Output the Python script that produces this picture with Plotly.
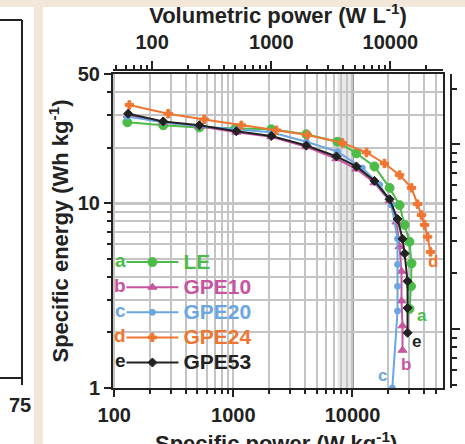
import math
import plotly.graph_objects as go

# ---------------- data ----------------
series_names = ["LE", "GPE10", "GPE20", "GPE24", "GPE53"]
series_letters = ["a", "b", "c", "d", "e"]
series_colors = ["#4cbb47", "#c8559f", "#6aa6e2", "#ef7530", "#222222"]
series_symbols = ["circle", "triangle-up", "circle", "cross", "diamond"]
series_sizes = [9, 8, 6, 7, 7]

le_power = [129, 258, 518, 1040, 2084, 4100, 7480, 10800, 15300, 20500, 24850, 27400, 30100, 31300, 31000, 30100]
le_energy = [27.4, 26.4, 25.7, 25.4, 25.1, 23.6, 21.5, 18.6, 15.8, 12.1, 9.76, 7.63, 6.18, 4.72, 3.55, 2.68]

gpe10_power = [130, 258, 518, 1060, 2084, 4100, 7340, 10800, 15300, 20500, 23400, 24850, 25800, 25800, 26300, 26300]
gpe10_energy = [29.9, 27.4, 26.1, 24.2, 22.9, 20.2, 17.4, 15.3, 12.9, 10.3, 7.91, 5.82, 4.28, 2.96, 2.17, 1.60]

gpe20_power = [129, 258, 518, 1060, 2084, 4100, 7480, 12100, 16900, 21300, 23900, 23900, 23900, 23900, 21600]
gpe20_energy = [29.4, 27.4, 26.1, 25.1, 24.2, 21.5, 19.0, 15.5, 12.6, 9.76, 6.42, 4.66, 3.55, 2.61, 1.0]

gpe24_power = [134, 284, 570, 1167, 2298, 4188, 8240, 13120, 18570, 24850, 31320, 35200, 38000, 40300, 42700, 45200]
gpe24_energy = [34.0, 30.5, 28.4, 26.4, 24.8, 23.4, 21.2, 18.8, 16.4, 14.2, 12.1, 9.88, 8.63, 7.63, 6.58, 5.45]

gpe53_power = [131, 258, 518, 1060, 2084, 4100, 7340, 10800, 15300, 20500, 23900, 26300, 27400, 29000, 29000, 29000]
gpe53_energy = [30.5, 27.7, 26.4, 24.5, 23.1, 20.5, 17.9, 15.8, 13.2, 10.5, 8.21, 6.42, 5.34, 3.78, 2.71, 1.99]

powers = [le_power, gpe10_power, gpe20_power, gpe24_power, gpe53_power]
energies = [le_energy, gpe10_energy, gpe20_energy, gpe24_energy, gpe53_energy]

# end-label offsets (px) for the curve letters
end_label_dx = [13, 4, -10, 2, 9]
end_label_dy = [-7, -14, 13, -10, -9]

density = 0.48  # kg L-1, links the specific and volumetric axes

x_tickvals = [100, 1000, 10000]
x_ticktext = ["100", "1000", "10000"]
y_tickvals = [1, 10, 50]
y_ticktext = ["1", "10", "50"]
x2_tickvals = [100, 1000, 10000]
x2_ticktext = ["100", "1000", "10000"]
y2_tickvals = [1, 10]

x_minor = [m * d for d in (100, 1000, 10000) for m in range(2, 10) if m * d <= 50000]
y_minor = [2, 3, 4, 5, 6, 7, 8, 9, 20, 30, 40]
x2_minor = [m * d for d in (10, 100, 1000, 10000) for m in range(2, 10) if 45 <= m * d <= 27000]
y2_minor = [0.5, 0.6, 0.7, 0.8, 0.9, 2, 3, 4, 5, 6, 7, 8, 9, 20]

shaded_band = [7500, 10000]
ref_power = 10000
ref_energy = 10

x_range = [1.99, 4.76]
y_range = [0.0, 1.699]

# ---------------- figure ----------------
W, H = 465, 444
L, R, T, B = 113, 15, 71, 56
pw = W - L - R
ph = H - T - B
ld = math.log10(density)

fig = go.Figure()

for name, col, sym, sz, px_, en in zip(series_names, series_colors, series_symbols, series_sizes, powers, energies):
    fig.add_trace(go.Scatter(
        x=px_, y=en, mode="lines+markers",
        name=f"<span style='color:{col};font-size:21px'>{name}</span>",
        line=dict(color=col, width=2),
        marker=dict(symbol=sym, size=sz, color=col, line=dict(color=col, width=1)),
        xaxis="x", yaxis="y",
    ))

# the same curve in volumetric units, carried (invisibly) by the secondary axes
fig.add_trace(go.Scatter(x=[p * density for p in gpe24_power], y=gpe24_energy, xaxis="x2", yaxis="y3",
                         mode="lines", line=dict(color="rgba(0,0,0,0)"), showlegend=False, hoverinfo="skip"))
fig.add_trace(go.Scatter(x=gpe24_power, y=[e * density for e in gpe24_energy], xaxis="x3", yaxis="y2",
                         mode="lines", line=dict(color="rgba(0,0,0,0)"), showlegend=False, hoverinfo="skip"))

# curve-end letters
for letter, col, px_, en, dx, dy in zip(series_letters, series_colors, powers, energies, end_label_dx, end_label_dy):
    fig.add_annotation(x=math.log10(px_[-1]), y=math.log10(en[-1]), xref="x", yref="y", text=f"<b>{letter}</b>",
                       showarrow=False, xshift=dx, yshift=dy,
                       font=dict(color=col, size=17))

gridc = "#c4c4c4"
dom_x = [0, (pw - 7) / pw]
dom_y = [0, (ph - 3) / ph]
tick_font = dict(size=20)
title_font = dict(size=22)
fig.update_layout(
    width=W, height=H,
    margin=dict(l=L, r=R, t=T, b=B, autoexpand=False),
    paper_bgcolor="white", plot_bgcolor="white",
    font=dict(family="Liberation Sans, Arial, sans-serif", size=18, color="#222", weight="bold"),
    showlegend=True,
    legend=dict(x=0.025, y=0.4525, xanchor="left", yanchor="top", bgcolor="rgba(0,0,0,0)",
                font=dict(size=17, weight="bold"), tracegroupgap=0, itemwidth=52),
    xaxis=dict(type="log", range=x_range, domain=dom_x, anchor="y", automargin=False,
               tickvals=x_tickvals, ticktext=x_ticktext, tickfont=tick_font, ticklabelstandoff=1,
               ticks="outside", ticklen=7, tickwidth=2, tickcolor="#222",
               showline=True, linecolor="#222", linewidth=2, mirror=True,
               showgrid=True, gridcolor=gridc, gridwidth=1.5,
               minor=dict(tickvals=x_minor, ticks="outside", ticklen=4, tickwidth=1.5, tickcolor="#222",
                          showgrid=True, gridcolor=gridc, gridwidth=1.5),
               zeroline=False),
    yaxis=dict(type="log", range=y_range, domain=dom_y, anchor="x", automargin=False,
               tickvals=y_tickvals, ticktext=y_ticktext, tickfont=tick_font,
               ticks="outside", ticklen=7, tickwidth=2, tickcolor="#222",
               showline=True, linecolor="#222", linewidth=2, mirror=True,
               showgrid=True, gridcolor=gridc, gridwidth=1.5,
               minor=dict(tickvals=y_minor, ticks="outside", ticklen=4, tickwidth=1.5, tickcolor="#222",
                          showgrid=True, gridcolor=gridc, gridwidth=1.5),
               title=dict(text="Specific energy (Wh kg<sup>-1</sup>)", font=title_font, standoff=3),
               zeroline=False),
    xaxis2=dict(type="log", side="top", anchor="y3", automargin=False,
                domain=dom_x, range=[x_range[0] + ld, x_range[1] + ld],
                tickvals=x2_tickvals, ticktext=x2_ticktext, tickfont=tick_font, ticklabelstandoff=4,
                ticks="outside", ticklen=8, tickwidth=2, tickcolor="#222",
                showline=True, linecolor="#222", linewidth=2, showgrid=False,
                minor=dict(tickvals=x2_minor, ticks="outside", ticklen=4, tickwidth=1.5, tickcolor="#222", showgrid=False),
                title=dict(text="Volumetric power (W L<sup>-1</sup>)", font=title_font, standoff=4),
                zeroline=False),
    yaxis3=dict(domain=[dom_y[1], 1], anchor="x2", visible=False, type="log"),
    yaxis2=dict(type="log", side="right", anchor="x3", automargin=False,
                domain=dom_y, range=[y_range[0] + ld, y_range[1] + ld],
                tickvals=y2_tickvals, showticklabels=False,
                ticks="outside", ticklen=8, tickwidth=2, tickcolor="#222",
                showline=True, linecolor="#222", linewidth=2, showgrid=False,
                minor=dict(tickvals=y2_minor, ticks="outside", ticklen=5, tickwidth=1.5, tickcolor="#222", showgrid=False),
                zeroline=False),
    xaxis3=dict(domain=[dom_x[1], 1], anchor="y2", visible=False, type="log"),
)

# shaded band and reference lines
fig.add_shape(type="rect", xref="x", yref="y domain", x0=shaded_band[0], x1=shaded_band[1], y0=0, y1=1,
              fillcolor="#e8e8e8", line=dict(width=0), layer="below")
fig.add_shape(type="line", xref="x", yref="y domain", x0=ref_power, x1=ref_power, y0=0, y1=1,
              line=dict(color="#222", width=2), layer="below")
fig.add_shape(type="line", xref="x domain", yref="y", x0=0, x1=1, y0=ref_energy, y1=ref_energy,
              line=dict(color="#222", width=2), layer="below")


def pxp(xp):
    return (xp - L) / pw


def pyp(yp):
    return (H - B - yp) / ph


# bottom axis title (runs off the lower edge of the cropped page, as in the source)
fig.add_annotation(x=pxp(276), y=pyp(426), xref="paper", yref="paper",
                   text="Specific power (W kg<sup>-1</sup>)", showarrow=False,
                   xanchor="center", yanchor="top", font=dict(size=22, color="#222"))

# legend prefix letters
legend_rows_y = [260, 285, 310, 335, 360]
for letter, col, yy in zip(series_letters, series_colors, legend_rows_y):
    fig.add_annotation(x=pxp(120), y=pyp(yy), xref="paper", yref="paper", text=f"<b>{letter}</b>",
                       showarrow=False, xanchor="center", yanchor="middle", font=dict(color=col, size=19))

# neighbouring panel fragment and beige frame of the source page
beige = "#f3e7d9"
fig.add_shape(type="rect", xref="paper", yref="paper", x0=pxp(34), x1=pxp(43), y0=pyp(H), y1=pyp(0),
              fillcolor=beige, line=dict(width=0), layer="below")
fig.add_shape(type="rect", xref="paper", yref="paper", x0=pxp(0), x1=pxp(W), y0=pyp(7), y1=pyp(0),
              fillcolor=beige, line=dict(width=0), layer="below")
fig.add_shape(type="line", xref="paper", yref="paper", x0=pxp(0), x1=pxp(22), y0=pyp(20), y1=pyp(20),
              line=dict(color="#222", width=2))
fig.add_shape(type="line", xref="paper", yref="paper", x0=pxp(22), x1=pxp(22), y0=pyp(20), y1=pyp(385),
              line=dict(color="#222", width=2))
fig.add_shape(type="line", xref="paper", yref="paper", x0=pxp(0), x1=pxp(22), y0=pyp(378), y1=pyp(378),
              line=dict(color="#222", width=2))
fig.add_annotation(x=pxp(20), y=pyp(405), xref="paper", yref="paper", text="<b>75</b>",
                   showarrow=False, xanchor="center", yanchor="middle", font=dict(size=20, color="#222"))

fig.write_html("out.html", config={"displayModeBar": False},
               post_script="document.body.style.margin='0px';")
